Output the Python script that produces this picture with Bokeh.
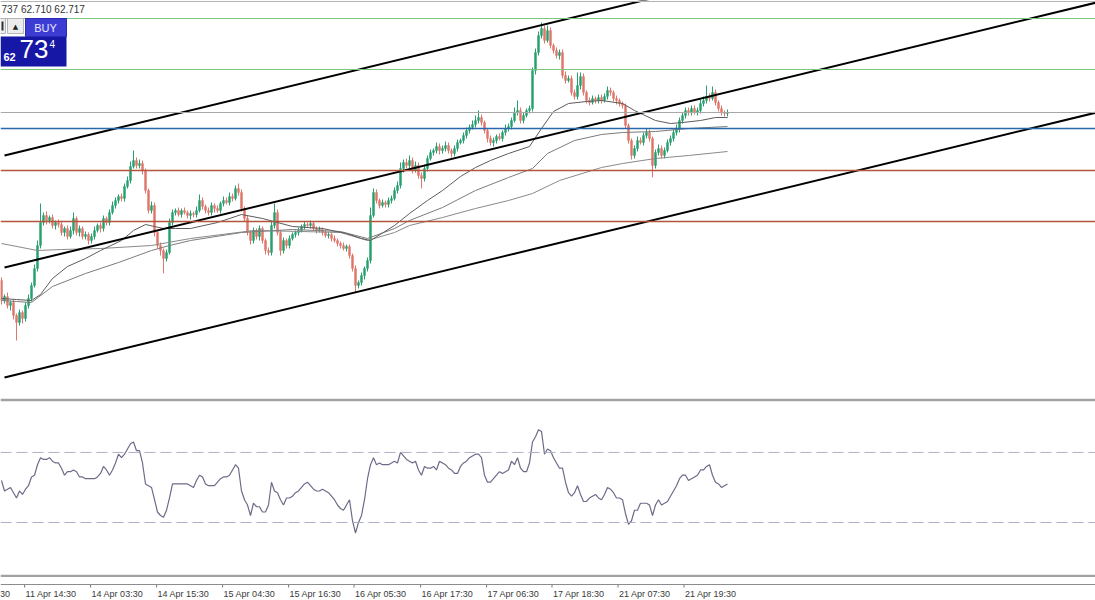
from bokeh.plotting import figure
from bokeh.layouts import column
from bokeh.models import Range1d, Span, BoxAnnotation, Label, ColumnDataSource
from bokeh.embed import file_html
from bokeh.resources import INLINE
from bokeh.core.properties import value

# ---------------- data ----------------
first_open = 61.05
closes = [
    60.85, 60.89, 60.80, 60.83, 60.70, 60.63, 60.73, 60.67, 60.80, 60.87,
    61.00, 61.17, 61.40, 61.63, 61.70, 61.65, 61.68, 61.60, 61.63, 61.61,
    61.53, 61.57, 61.49, 61.55, 61.67, 61.53, 61.57, 61.49, 61.51, 61.45,
    61.49, 61.55, 61.60, 61.57, 61.67, 61.63, 61.73, 61.80, 61.85, 61.89,
    61.87, 61.99, 62.05, 62.19, 62.25, 62.20, 62.22, 62.15, 61.95, 61.75,
    61.80, 61.53, 61.40, 61.35, 61.27, 61.33, 61.63, 61.73, 61.75, 61.71,
    61.75, 61.73, 61.70, 61.72, 61.71, 61.75, 61.85, 61.79, 61.75, 61.73,
    61.80, 61.77, 61.75, 61.82, 61.85, 61.83, 61.89, 61.87, 61.97, 61.93,
    61.77, 61.67, 61.53, 61.45, 61.55, 61.49, 61.57, 61.45, 61.35, 61.33,
    61.60, 61.73, 61.53, 61.35, 61.45, 61.40, 61.47, 61.51, 61.53, 61.55,
    61.59, 61.61, 61.60, 61.62, 61.57, 61.55, 61.56, 61.53, 61.50, 61.51,
    61.47, 61.45, 61.42, 61.40, 61.37, 61.39, 61.30, 61.17, 61.00, 61.03,
    61.10, 61.17, 61.25, 61.70, 61.93, 61.85, 61.80, 61.83, 61.81, 61.85,
    61.87, 61.95, 62.00, 62.17, 62.23, 62.20, 62.25, 62.15, 62.20, 62.10,
    62.07, 62.17, 62.27, 62.33, 62.35, 62.39, 62.35, 62.37, 62.40, 62.35,
    62.32, 62.37, 62.43, 62.45, 62.50, 62.55, 62.58, 62.61, 62.65, 62.68,
    62.63, 62.55, 62.47, 62.43, 62.45, 62.49, 62.47, 62.53, 62.57, 62.59,
    62.65, 62.73, 62.75, 62.65, 62.70, 62.75, 62.77, 63.15, 63.33, 63.50,
    63.57, 63.45, 63.55, 63.40, 63.35, 63.30, 63.33, 63.10, 63.05, 63.07,
    62.93, 62.89, 63.00, 63.09, 62.93, 62.85, 62.83, 62.87, 62.85, 62.88,
    62.85, 62.89, 62.95, 62.93, 62.87, 62.85, 62.82, 62.80, 62.60, 62.45,
    62.30, 62.37, 62.45, 62.43, 62.50, 62.53, 62.47, 62.20, 62.33, 62.37,
    62.30, 62.35, 62.43, 62.47, 62.53, 62.57, 62.65, 62.70, 62.75, 62.73,
    62.77, 62.73, 62.75, 62.82, 62.85, 62.89, 62.87, 62.93, 62.83, 62.77,
    62.73, 62.72, 62.73,
]
# wick lengths above / below the body, in price points (0.01)
upper_wick = [
    3, 2, 4, 2, 3, 2, 3, 2, 3, 4,
    3, 4, 5, 19, 3, 4, 2, 3, 2, 3,
    3, 2, 3, 4, 6, 2, 3, 2, 3, 2,
    3, 4, 2, 3, 3, 2, 3, 4, 3, 2,
    3, 3, 4, 5, 10, 3, 4, 3, 2, 2,
    4, 3, 2, 3, 2, 3, 4, 3, 2, 3,
    2, 3, 2, 3, 2, 4, 6, 3, 2, 3,
    3, 2, 3, 2, 4, 3, 4, 3, 3, 5,
    3, 2, 3, 2, 3, 2, 3, 2, 2, 3,
    4, 9, 3, 2, 3, 2, 3, 2, 2, 3,
    2, 3, 2, 3, 2, 2, 3, 2, 3, 2,
    2, 3, 2, 2, 3, 2, 2, 2, 3, 2,
    3, 2, 3, 8, 4, 3, 2, 3, 2, 3,
    3, 3, 4, 6, 3, 4, 5, 3, 4, 3,
    3, 4, 3, 3, 2, 4, 3, 3, 4, 3,
    2, 3, 3, 2, 3, 3, 3, 4, 5, 7,
    3, 2, 2, 3, 3, 2, 3, 2, 4, 3,
    3, 5, 10, 3, 3, 2, 3, 3, 4, 4,
    6, 3, 5, 3, 2, 3, 3, 3, 4, 3,
    3, 3, 13, 4, 3, 2, 3, 3, 2, 3,
    3, 3, 4, 3, 2, 3, 2, 2, 2, 2,
    2, 3, 4, 3, 3, 4, 3, 2, 3, 4,
    3, 3, 3, 3, 3, 4, 3, 3, 3, 3,
    3, 3, 3, 4, 4, 11, 3, 6, 3, 2,
    3, 2, 3,
]
lower_wick = [
    4, 3, 3, 5, 4, 18, 3, 5, 3, 3,
    3, 2, 3, 3, 3, 4, 3, 3, 4, 3,
    3, 4, 3, 2, 4, 3, 4, 3, 3, 4,
    3, 3, 2, 4, 3, 3, 3, 2, 3, 3,
    3, 3, 2, 3, 2, 3, 3, 4, 3, 3,
    3, 4, 3, 5, 15, 3, 2, 3, 3, 2,
    3, 2, 3, 4, 3, 3, 2, 3, 3, 3,
    3, 4, 2, 3, 3, 2, 3, 3, 2, 3,
    3, 3, 3, 4, 3, 3, 4, 3, 4, 3,
    3, 3, 3, 5, 3, 3, 3, 2, 3, 3,
    2, 3, 2, 3, 2, 3, 2, 3, 2, 3,
    3, 2, 3, 3, 2, 3, 3, 3, 7, 3,
    3, 4, 3, 3, 2, 3, 3, 2, 3, 3,
    3, 2, 3, 3, 4, 3, 3, 3, 2, 3,
    10, 3, 3, 2, 3, 3, 4, 3, 3, 3,
    4, 3, 3, 2, 3, 3, 3, 2, 3, 3,
    3, 3, 4, 3, 4, 3, 2, 3, 3, 3,
    3, 2, 3, 3, 3, 2, 3, 3, 4, 3,
    3, 3, 2, 3, 3, 3, 4, 3, 3, 2,
    3, 3, 3, 4, 3, 3, 3, 2, 3, 3,
    3, 2, 3, 3, 3, 4, 3, 3, 3, 3,
    4, 3, 3, 2, 3, 3, 3, 12, 3, 3,
    3, 3, 2, 3, 3, 3, 4, 3, 3, 3,
    3, 2, 3, 3, 3, 3, 3, 2, 3, 3,
    3, 3, 3,
]
rsi = [
    54, 48, 49, 50, 47, 44, 48, 46, 49, 51,
    56, 57, 63, 67, 66, 66, 67, 65, 64, 64,
    61, 57, 59, 59, 60, 59, 56, 56, 55, 55,
    55, 55, 56, 58, 62, 60, 57, 60, 64, 69,
    67, 69, 72, 75, 76, 71, 71, 64, 52, 51,
    50, 43, 36, 34, 33, 37, 44, 52, 52, 52,
    52, 52, 52, 51, 50, 54, 57, 56, 52, 51,
    51, 51, 53, 55, 56, 56, 57, 60, 63, 61,
    48, 43, 40, 34, 41, 39, 39, 36, 36, 40,
    53, 48, 47, 43, 40, 44, 44, 45, 47, 48,
    50, 52, 53, 51, 49, 48, 48, 49, 48, 47,
    45, 43, 40, 38, 37, 40, 43, 31, 24, 30,
    34, 43, 55, 63, 67, 63, 64, 63, 63, 63,
    64, 65, 64, 70, 68, 66, 65, 64, 65, 60,
    57, 62, 61, 61, 62, 60, 65, 64, 63, 61,
    60, 58, 58, 62, 64, 65, 67, 68, 69, 69,
    67, 57, 53, 53, 55, 57, 59, 58, 59, 60,
    65, 63, 67, 61, 59, 59, 64, 76, 79, 83,
    82, 69, 72, 71, 67, 64, 61, 61, 53, 47,
    45, 47, 51, 46, 42, 42, 44, 45, 46, 44,
    43, 46, 50, 49, 47, 44, 44, 43, 35, 29,
    31, 37, 37, 41, 41, 41, 40, 34, 40, 43,
    40, 41, 42, 45, 48, 51, 55, 57, 57, 54,
    55, 56, 57, 60, 60, 62, 63, 57, 53, 52,
    50, 51, 52,
]
ma_fast_idx = [0, 5, 10, 13, 17, 22, 28, 33, 40, 44, 48, 51, 54, 58, 63, 72, 80, 87, 97, 107,
               115, 120, 123, 131, 136, 142, 147, 153, 158, 163, 169, 176, 180, 184, 189, 195,
               200, 207, 211, 218, 223, 227, 233, 238, 242]
ma_fast = [60.87, 60.86, 60.85, 60.91, 61.07, 61.19, 61.27, 61.35, 61.45, 61.55, 61.61, 61.59,
           61.57, 61.57, 61.57, 61.63, 61.71, 61.67, 61.59, 61.57, 61.52, 61.47, 61.45, 61.60,
           61.72, 61.85, 61.95, 62.09, 62.18, 62.25, 62.32, 62.39, 62.57, 62.74, 62.82, 62.84,
           62.85, 62.82, 62.75, 62.65, 62.62, 62.63, 62.65, 62.68, 62.68]
ma_mid_idx = [0, 5, 10, 17, 28, 39, 50, 56, 63, 80, 97, 113, 122, 131, 136, 147, 158, 169, 177,
              182, 191, 200, 207, 218, 229, 242]
ma_mid = [60.85, 60.84, 60.83, 60.99, 61.12, 61.23, 61.35, 61.40, 61.45, 61.53, 61.56, 61.54,
          61.47, 61.57, 61.65, 61.78, 61.95, 62.08, 62.17, 62.32, 62.45, 62.51, 62.53, 62.54,
          62.57, 62.59]
ma_slow_idx = [0, 12, 20, 33, 50, 63, 84, 100, 113, 122, 131, 136, 147, 158, 169, 177, 186, 200,
               207, 218, 229, 242]
ma_slow = [61.42, 61.35, 61.36, 61.37, 61.40, 61.47, 61.55, 61.54, 61.53, 61.45, 61.53, 61.60,
           61.68, 61.77, 61.85, 61.92, 62.05, 62.18, 62.22, 62.27, 62.30, 62.34]

green_levels = [63.67, 63.16]
bid_level = 62.73
blue_level = 62.57
red_levels = [62.15, 61.64]

channel_idx = [1, 365]
channel_upper = [62.30, 64.95]
channel_mid = [61.18, 63.83]
channel_low = [60.08, 62.73]

rsi_levels = [70, 30]

tick_idx = [-14.3, 7.7, 29.7, 51.7, 73.7, 95.7, 117.5, 139.7, 161.7, 183.5, 205.5, 227.5]
tick_labels = ["11 Apr 01:30", "11 Apr 14:30", "14 Apr 03:30", "14 Apr 15:30", "15 Apr 04:30",
               "15 Apr 16:30", "16 Apr 05:30", "16 Apr 17:30", "17 Apr 06:30",
               "17 Apr 18:30", "21 Apr 07:30", "21 Apr 19:30"]
header_text = "737 62.710 62.717"

# ---------------- styles ----------------
BULL = "#27a06f"
BEAR = "#e0776b"
W = 1095


def X(px):
    return (px - 1) / 3.0


def Y(py):
    return 63.85 - py / 100.0


n = len(closes)
idx = list(range(n))
opens = [first_open] + closes[:-1]
tops = [max(o, c) for o, c in zip(opens, closes)]
bots = [min(o, c) for o, c in zip(opens, closes)]
highs = [t + u / 100.0 for t, u in zip(tops, upper_wick)]
lows = [b - d / 100.0 for b, d in zip(bots, lower_wick)]
colors = [BULL if c >= o else BEAR for o, c in zip(opens, closes)]
src = ColumnDataSource(dict(x=idx, top=tops, bottom=bots, high=highs, low=lows, color=colors))

x_range = Range1d(X(0), X(1095))

common = dict(output_backend="svg", toolbar_location=None,
              x_axis_location=None, y_axis_location=None,
              min_border=0, min_border_left=0, min_border_right=0,
              outline_line_color=None, background_fill_color="white")

# ---------------- price panel ----------------
p = figure(width=W, height=398, x_range=x_range, y_range=Range1d(Y(398), Y(0)),
           min_border_top=0, min_border_bottom=0, border_fill_color="white", **common)
p.grid.visible = False

p.add_layout(Span(location=Y(1), dimension="width", line_color="#b4b4b4", line_width=1))
for lv in green_levels:
    p.add_layout(Span(location=lv, dimension="width", line_color="#7cc67f", line_width=1))
p.add_layout(Span(location=bid_level, dimension="width", line_color="#a8a8a8", line_width=1))
p.add_layout(Span(location=blue_level, dimension="width", line_color="#2b67ad", line_width=1.5))
for lv in red_levels:
    p.add_layout(Span(location=lv, dimension="width", line_color="#b4533f", line_width=1.5))

p.segment(x0="x", y0="high", x1="x", y1="low", line_color="color", line_width=1, source=src)
p.vbar(x="x", width=0.45, top="top", bottom="bottom", fill_color="color", line_color="color",
       line_width=1, source=src)

p.line(ma_slow_idx, ma_slow, line_color="#8a8a8a", line_width=1)
p.line(ma_mid_idx, ma_mid, line_color="#7c7c7c", line_width=1)
p.line(ma_fast_idx, ma_fast, line_color="#5c5c5c", line_width=1)

for ch in (channel_upper, channel_mid, channel_low):
    p.line(channel_idx, ch, line_color="black", line_width=2)

# trading widget (top-left)
p.add_layout(BoxAnnotation(left=X(0), right=X(66), top=Y(36), bottom=Y(66),
                           fill_color="#1717a6", fill_alpha=1, line_color=None))
p.add_layout(BoxAnnotation(left=X(25), right=X(66), top=Y(18), bottom=Y(36),
                           fill_color="#3c3cd4", fill_alpha=1, line_color="#2a2ab0", line_alpha=1))
p.add_layout(BoxAnnotation(left=X(-3), right=X(5), top=Y(18), bottom=Y(33),
                           fill_color="#ececec", fill_alpha=1, line_color="#b5b5b5", line_alpha=1))
p.add_layout(BoxAnnotation(left=X(1), right=X(3), top=Y(21), bottom=Y(30),
                           fill_color="#333333", fill_alpha=1, line_color=None))
p.add_layout(BoxAnnotation(left=X(7), right=X(23), top=Y(18), bottom=Y(33),
                           fill_color="#ececec", fill_alpha=1, line_color="#b5b5b5", line_alpha=1))
p.add_layout(Label(x=X(15), y=Y(26), text="▲", text_align="center", text_baseline="middle",
                   text_font="DejaVu Sans", text_font_size="7px", text_color="#222222"))
p.add_layout(Label(x=X(45), y=Y(27), text="BUY", text_align="center", text_baseline="middle",
                   text_font="Liberation Sans", text_font_size="11px", text_color="#e6e6ff"))
p.add_layout(Label(x=X(3), y=Y(52), text="62", text_align="left", text_baseline="top",
                   text_font="Liberation Sans", text_font_size="11px", text_font_style="bold",
                   text_color="white"))
p.add_layout(Label(x=X(19), y=Y(39), text="73", text_align="left", text_baseline="top",
                   text_font="Liberation Sans", text_font_size="26px", text_color="white"))
p.add_layout(Label(x=X(49), y=Y(39), text="4", text_align="left", text_baseline="top",
                   text_font="Liberation Sans", text_font_size="10px", text_color="white"))
p.add_layout(Label(x=X(1), y=Y(3), text=header_text, text_align="left", text_baseline="top",
                   text_font="Liberation Sans", text_font_size="10px", text_color="#333333"))

# ---------------- RSI panel ----------------
pr = figure(width=W, height=179, x_range=x_range, y_range=Range1d(0.3, 99.1),
            min_border_top=3, min_border_bottom=3, border_fill_color="#a2a2a2", **common)
pr.grid.visible = False
for lv in rsi_levels:
    pr.add_layout(Span(location=lv, dimension="width", line_color="#aeaec6", line_width=1,
                       line_dash="11 5"))
pr.line(idx, rsi, line_color="#6c6c8a", line_width=1.2)

# ---------------- time axis ----------------
pa = figure(width=W, height=23, x_range=x_range, y_range=Range1d(0, 23),
            min_border_top=0, min_border_bottom=0, border_fill_color="white", **common)
pa.grid.visible = False
pa.add_layout(Span(location=16, dimension="width", line_color="#8c8c8c", line_width=1))
nt = len(tick_idx)
pa.segment(x0=tick_idx, y0=[16] * nt, x1=tick_idx, y1=[13] * nt, line_color="#777777",
           line_width=1)
pa.text(x=tick_idx, y=[11.5] * nt, text=tick_labels, x_offset=1, text_align="left",
        text_baseline="top", text_font=value("Liberation Sans"), text_font_size="9px",
        text_color="#3a3a3a")

layout = column(p, pr, pa, spacing=0)
open("out.html", "w").write(file_html(layout, INLINE))
